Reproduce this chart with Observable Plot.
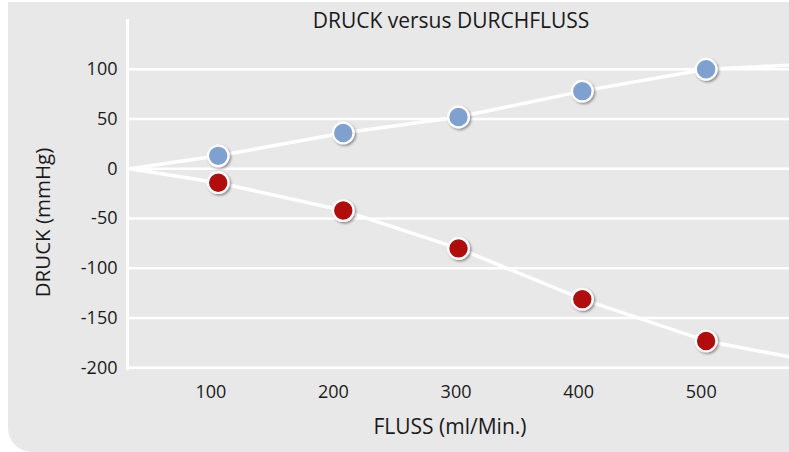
<!DOCTYPE html>
<html><head><meta charset="utf-8">
<script src="https://cdn.jsdelivr.net/npm/d3@7"></script>
<script src="https://cdn.jsdelivr.net/npm/@observablehq/plot@0.6"></script>
<style>
html,body{margin:0;padding:0;background:#fff;}
#wrap{position:relative;width:789px;height:452px;overflow:hidden;}
#panel{position:absolute;left:8px;top:2px;right:0;bottom:0;background:#e8e8e8;border-bottom-left-radius:24px;}
#chart{position:absolute;left:0;top:0;}
</style></head>
<body><div id="wrap"><div id="panel"></div><div id="chart"></div></div>
<script>
// Data
const flow = [106, 208, 302, 403, 504];
const druckBlau = [13, 36, 52, 78, 100];
const druckRot = [-14, -42, -80, -131, -173];
const lineX = [34, 572];          // line start / end flow
const blauEnds = [0, 104];        // blue line start / end pressure
const rotEnds = [0, -189];        // red line start / end pressure
const xTicks = [100, 200, 300, 400, 500];
const yTicks = [-200, -150, -100, -50, 0, 50, 100];
const title = "DRUCK versus DURCHFLUSS";
const xLabel = "FLUSS (ml/Min.)";
const yLabel = "DRUCK (mmHg)";

const bluePts = flow.map((x, i) => ({x, y: druckBlau[i]}));
const redPts = flow.map((x, i) => ({x, y: druckRot[i]}));
const blueLine = [{x: lineX[0], y: blauEnds[0]}, ...bluePts, {x: lineX[1], y: blauEnds[1]}];
const redLine = [{x: lineX[0], y: rotEnds[0]}, ...redPts, {x: lineX[1], y: rotEnds[1]}];

const chart = Plot.plot({
  width: 789, height: 452,
  marginLeft: 127, marginRight: 0, marginTop: 19, marginBottom: 84.7,
  style: {background: "transparent", fontFamily: "'Open Sans', sans-serif", fontSize: "18px", color: "#1a1a1a", overflow: "visible"},
  x: {domain: [32, 572], ticks: xTicks, tickSize: 0, tickPadding: 17, label: null, tickFormat: d => String(d)},
  y: {domain: [-200, 150], ticks: yTicks, tickSize: 0, tickPadding: 10, label: null, tickFormat: d => String(d)},
  marks: [
    Plot.ruleY(yTicks, {stroke: "#fff", strokeWidth: 2.6}),
    Plot.ruleX([32], {y1: 150, y2: -203, stroke: "#fff", strokeWidth: 3}),
    Plot.line(blueLine, {x: "x", y: "y", stroke: "#fff", strokeWidth: 3.5}),
    Plot.line(redLine, {x: "x", y: "y", stroke: "#fff", strokeWidth: 3.5}),
    Plot.dot(bluePts, {x: "x", y: "y", r: 10.3, fill: "#7fa1cf", stroke: "#fff", strokeWidth: 2.2}),
    Plot.dot(redPts, {x: "x", y: "y", r: 10.3, fill: "#b20c10", stroke: "#fff", strokeWidth: 2.2})
  ]
});
document.getElementById("chart").appendChild(chart);

const svg = d3.select(chart);
const defs = svg.insert("defs", ":first-child");
defs.append("filter").attr("id", "sh").attr("x", "-50%").attr("y", "-50%").attr("width", "200%").attr("height", "200%")
  .append("feDropShadow").attr("dx", 1.5).attr("dy", 1.5).attr("stdDeviation", 1.2)
  .attr("flood-color", "#000").attr("flood-opacity", 0.4);
svg.selectAll("g[aria-label='dot']").attr("filter", "url(#sh)");

const font = "'Open Sans', sans-serif";
svg.append("text").text(title).attr("x", 451).attr("y", 28.3).attr("text-anchor", "middle")
  .attr("font-size", 21).attr("font-family", font).attr("fill", "#1a1a1a");
svg.append("text").text(xLabel).attr("x", 450).attr("y", 434).attr("text-anchor", "middle")
  .attr("font-size", 21).attr("font-family", font).attr("fill", "#1a1a1a");
svg.append("text").text(yLabel).attr("transform", "translate(50,222.5) rotate(-90)").attr("text-anchor", "middle")
  .attr("font-size", 20.5).attr("font-family", font).attr("fill", "#1a1a1a");
</script>
</body></html>
